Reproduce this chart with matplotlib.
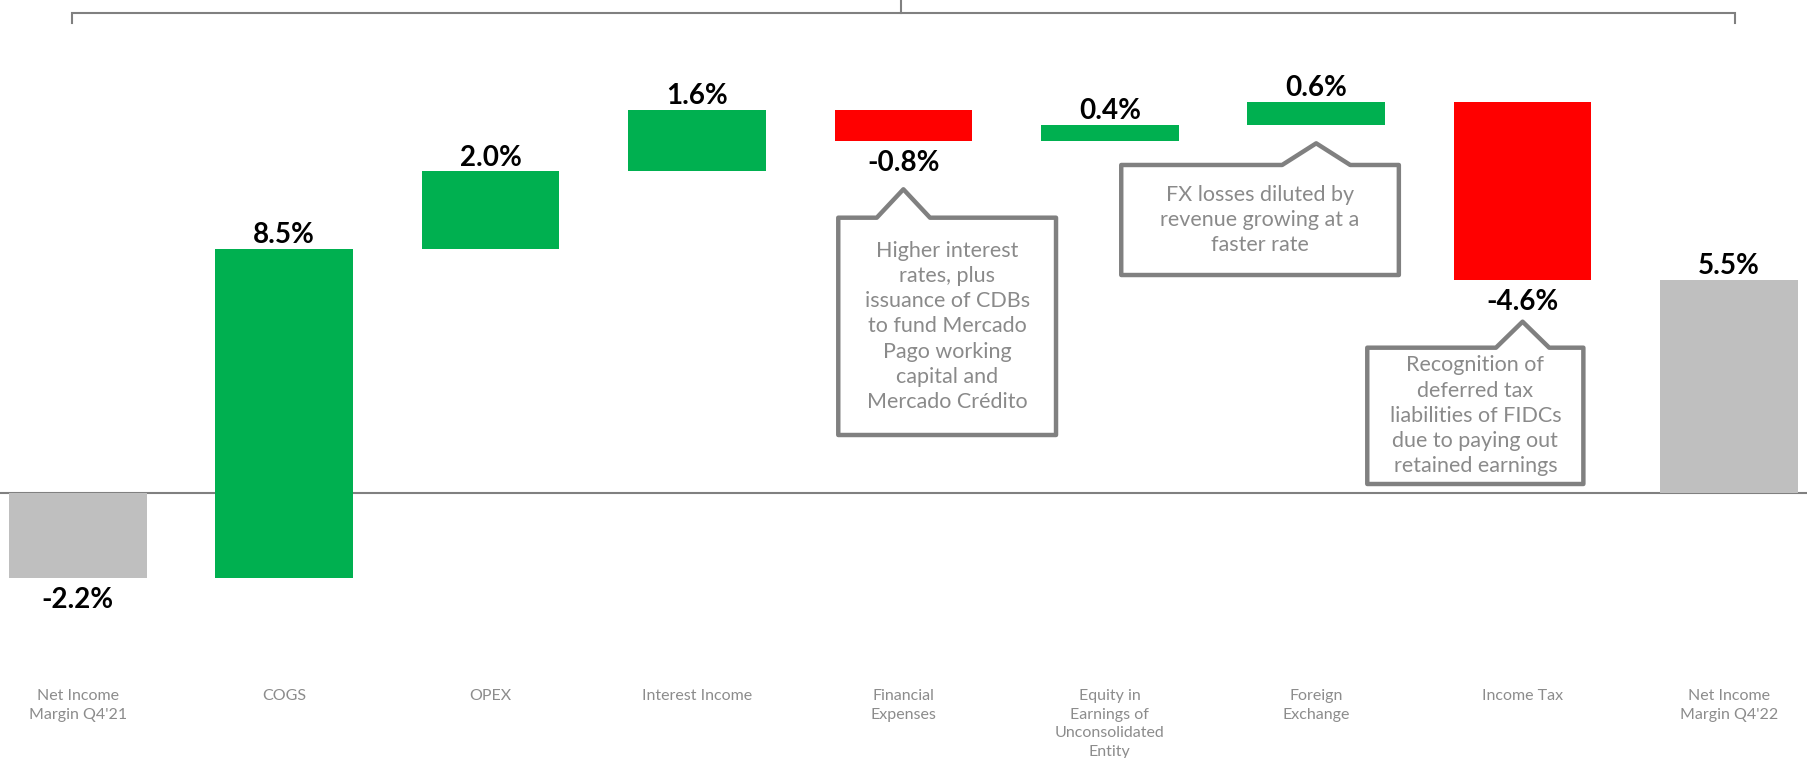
import matplotlib
matplotlib.use("Agg")
import matplotlib.pyplot as plt
from matplotlib.patches import Polygon
import numpy as np

plt.rcParams['font.family'] = ['Lato', 'DejaVu Sans']

# data
categories = ['Net Income\nMargin Q4\'21', 'COGS', 'OPEX', 'Interest Income',
              'Financial\nExpenses', 'Equity in\nEarnings of\nUnconsolidated\nEntity',
              'Foreign\nExchange', 'Income Tax', 'Net Income\nMargin Q4\'22']
values = [-2.2, 8.5, 2.0, 1.6, -0.8, 0.4, 0.6, -4.6, 5.5]
is_total = [True, False, False, False, False, False, False, False, True]

notes = [
    (4, 'Higher interest\nrates, plus\nissuance of CDBs\nto fund Mercado\n'
        'Pago working\ncapital and\nMercado Crédito'),
    (6, 'FX losses diluted by\nrevenue growing at a\nfaster rate'),
    (7, 'Recognition of\ndeferred tax\nliabilities of FIDCs\ndue to paying out\n'
        'retained earnings'),
]

# callout layout: (box x offset, box width, box top, box bottom, tip height, tip half width)
note_boxes = [
    (0.212, 1.055, 7.106, 1.491, 0.734, 0.129),
    (-0.272, 1.345, 8.468, 5.625, 0.560, 0.165),
    (-0.229, 1.047, 3.747, 0.225, 0.672, 0.129),
]

GREEN = '#00B050'
RED = '#FF0000'
GREY = '#BFBFBF'
LINE = '#808080'


def main():
    fig = plt.figure(figsize=(18.07, 7.58), dpi=100)
    ax = fig.add_axes([0, 0, 1, 1])
    ax.set_xlim(-0.3769, 8.378)
    ax.set_ylim(-6.855, 12.731)
    ax.axis('off')

    x = np.arange(len(values))
    bottoms, colors = [], []
    run = 0.0
    for v, tot in zip(values, is_total):
        if tot:
            bottoms.append(0.0)
            colors.append(GREY)
            run = v
        else:
            bottoms.append(run)
            colors.append(GREEN if v > 0 else RED)
            run += v
    bottoms = np.array(bottoms)
    ends = bottoms + np.array(values)

    ax.axhline(0, color=LINE, lw=1.5, zorder=1)
    ax.bar(x, values, bottom=bottoms, width=2 / 3, color=colors, zorder=2)

    # value labels
    for xi, v, e in zip(x, values, ends):
        off = 4 if v > 0 else -22
        ax.annotate('%.1f%%' % v, xy=(xi, e), xytext=(0, off),
                    textcoords='offset points', ha='center', va='baseline',
                    fontsize=20, fontweight='bold', color='black')

    # category labels
    for xi, c in zip(x, categories):
        ax.text(xi, -5.07, c, ha='center', va='top', fontsize=11.5,
                color='#8C8C8C', linespacing=1.42)

    # bracket on top
    y0, y1 = 12.408, 12.137
    ax.plot([-0.03, -0.03, 8.03, 8.03], [y1, y0, y0, y1], color=LINE,
            lw=1.5, solid_joinstyle='miter', clip_on=False)
    ax.plot([3.99, 3.99], [y0, 13.0], color=LINE, lw=1.5)

    # callouts
    for (ci, txt), (dx, w, top, bot, th, hw) in zip(notes, note_boxes):
        cx = ci + dx
        L, R = cx - w / 2, cx + w / 2
        pts = [(L, top), (ci - hw, top), (ci, top + th), (ci + hw, top),
               (R, top), (R, bot), (L, bot)]
        ax.add_patch(Polygon(pts, closed=True, facecolor='white',
                             edgecolor=LINE, lw=3.2, joinstyle='round',
                             zorder=3))
        ax.text(cx, (top + bot) / 2, txt, ha='center', va='center',
                fontsize=15.5, color='#8A8A8A', linespacing=1.33, zorder=4)

    fig.savefig('out.png', dpi=100)


if __name__ == "__main__":
    main()
